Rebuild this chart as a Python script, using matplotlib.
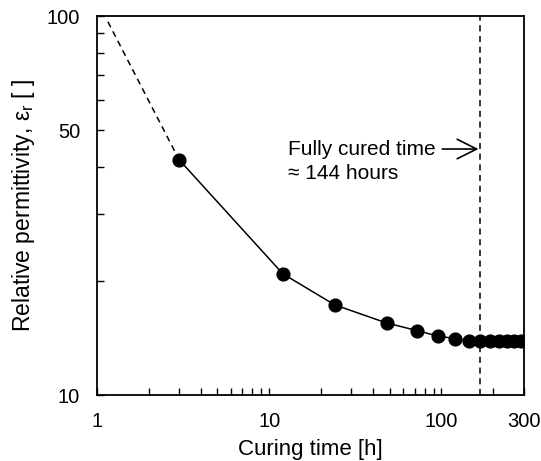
import matplotlib
matplotlib.use('Agg')
import matplotlib.pyplot as plt
from matplotlib.ticker import FixedLocator, FixedFormatter, NullFormatter

plt.rcParams['font.family'] = ['Liberation Sans', 'DejaVu Sans']
plt.rcParams['mathtext.fontset'] = 'custom'
plt.rcParams['mathtext.rm'] = 'Liberation Sans'

# measured data
hours = [3, 12, 24, 48, 72, 96, 120, 144, 168, 192, 216, 240, 264, 288]
permittivity = [41.8, 20.9, 17.3, 15.5, 14.8, 14.3, 14.1, 13.9, 13.9, 13.9, 13.9, 13.9, 13.9, 13.9]

# extrapolated start (dashed)
extrap_hours = [1.16, 3]
extrap_perm = [96.6, 41.8]

cured_time = 168

fig = plt.figure(figsize=(5.41, 4.61), dpi=100)
ax = fig.add_axes([0.179, 0.143, 0.789, 0.822])

ax.plot(extrap_hours, extrap_perm, '--', color='black', lw=1.1, dashes=(4, 3))
ax.plot(hours, permittivity, '-', color='black', lw=1.1,
        marker='o', ms=9.2, mfc='black', mec='black')
ax.axvline(cured_time, color='black', lw=1.1, ls='--', dashes=(4, 3))

ax.set_xscale('log')
ax.set_yscale('log')
ax.set_xlim(1, 300)
ax.set_ylim(10, 100)

ax.xaxis.set_major_locator(FixedLocator([1, 10, 100, 300]))
ax.xaxis.set_major_formatter(FixedFormatter(['1', '10', '100', '300']))
ax.xaxis.set_minor_locator(FixedLocator([2, 3, 4, 5, 6, 7, 8, 9,
                                         20, 30, 40, 50, 60, 70, 80, 90, 200]))
ax.xaxis.set_minor_formatter(NullFormatter())
ax.yaxis.set_major_locator(FixedLocator([10, 50, 100]))
ax.yaxis.set_major_formatter(FixedFormatter(['10', '50', '100']))
ax.yaxis.set_minor_locator(FixedLocator([20, 30, 40, 60, 70, 80, 90]))
ax.yaxis.set_minor_formatter(NullFormatter())

ax.tick_params(which='both', direction='in', length=5, width=1,
               top=False, right=False, labelsize=14.5, pad=12)
for s in ax.spines.values():
    s.set_linewidth(1.3)

ax.set_xlabel('Curing time [h]', fontsize=16, labelpad=6)
ax.set_ylabel(r'Relative permittivity, ε$_\mathrm{r}$ [ ]', fontsize=16.5, labelpad=7)

ax.annotate('', xy=(164, 44.6), xytext=(101, 44.6),
            arrowprops=dict(arrowstyle='->,head_length=0.7,head_width=0.35',
                            color='black', lw=1.2, mutation_scale=20,
                            shrinkA=0, shrinkB=0))
ax.text(12.9, 44.6, 'Fully cured time', fontsize=15, va='center', ha='left')
ax.text(12.9, 38.4, '≈ 144 hours', fontsize=15, va='center', ha='left')

fig.savefig('out.png', dpi=100)
